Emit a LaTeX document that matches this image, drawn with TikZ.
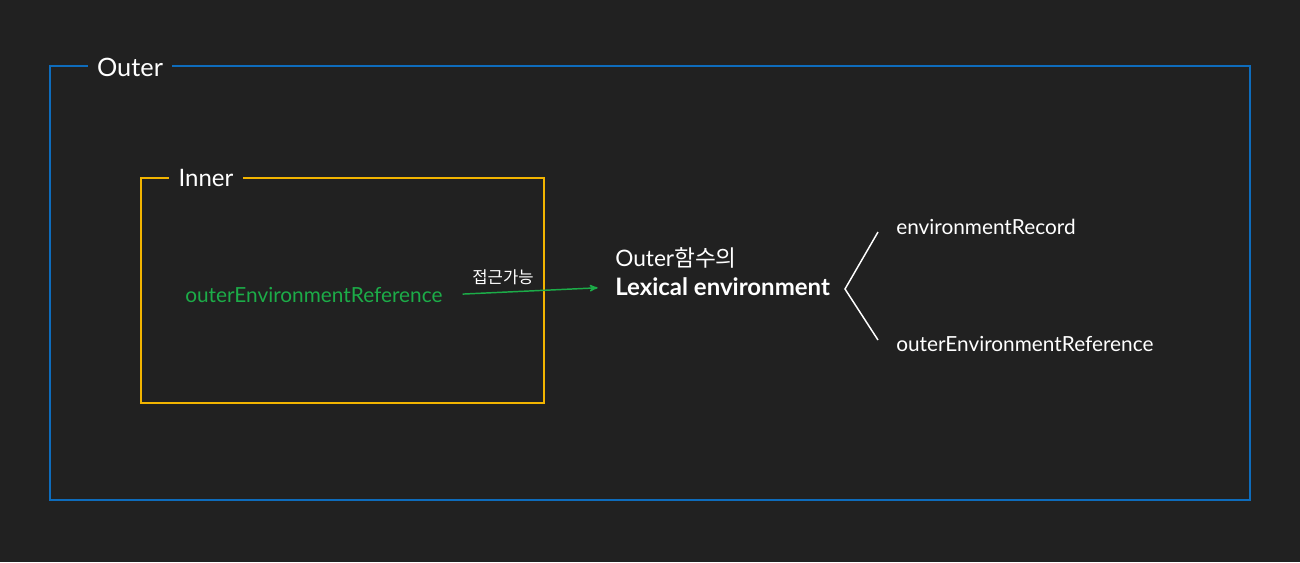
\documentclass[tikz,border=0pt]{standalone}
\usepackage{fontspec}
\setmainfont{Lato}
\newfontfamily\kr{Noto Sans CJK KR}
\usetikzlibrary{arrows,positioning}
\definecolor{bg}{RGB}{33,33,33}
\definecolor{outerblue}{RGB}{14,108,188}
\definecolor{inneryellow}{RGB}{242,180,0}
\definecolor{accgreen}{RGB}{28,172,72}

\begin{document}
\begin{tikzpicture}[x=0.75pt,y=-0.75pt,>=stealth',
            framelabel/.style={fill=bg,text=white,inner xsep=7pt,inner ysep=0pt},
            plain/.style={text=white,inner sep=0pt,font=\fontsize{15.6}{18}\selectfont}]
            \useasboundingbox[fill=bg] (0,0) rectangle (1300,562);
            % frames
            \draw[outerblue,line width=1.4pt]   (50,66)  rectangle (1250,500);
            \draw[inneryellow,line width=1.4pt] (141,178) rectangle (544,403);
            \node[framelabel,font=\fontsize{19}{22}\selectfont] (outer) at (130,67)  {Outer};
            \node[framelabel,font=\fontsize{18}{21}\selectfont] (inner) at (206,178) {Inner};
            % reference inside Inner
            \node[plain,text=accgreen,anchor=west] (ref) at (185,295) {outerEnvironmentReference};
            \node[plain,font=\fontsize{18}{21}\selectfont,anchor=west] (lex) at (615,287)
              {\textbf{Lexical environment}};
            \node[plain,font=\fontsize{17}{20}\selectfont] (fn)
              [above=7pt of lex.north west,anchor=south west] {Outer{\kr 함수의}};
            \path[->,accgreen,line width=1.1pt,shorten <=15pt,shorten >=13pt] (ref.east) edge
              node[above=1.5pt,pos=0.35,text=white,font=\kr\fontsize{12.5}{14}\selectfont] {접근가능} (lex.west);
            % bracket
            \node[plain,anchor=west] (rec) at (896,227) {environmentRecord};
            \node[plain,anchor=west] (oer) at (896,344) {outerEnvironmentReference};
            \coordinate (fork)   at (845,289);
            \coordinate (recend) at (878,232);
            \coordinate (oerend) at (878,340);
            \draw[white,line width=1.1pt] (recend) -- (fork) -- (oerend);
          \end{tikzpicture}
\end{document}
